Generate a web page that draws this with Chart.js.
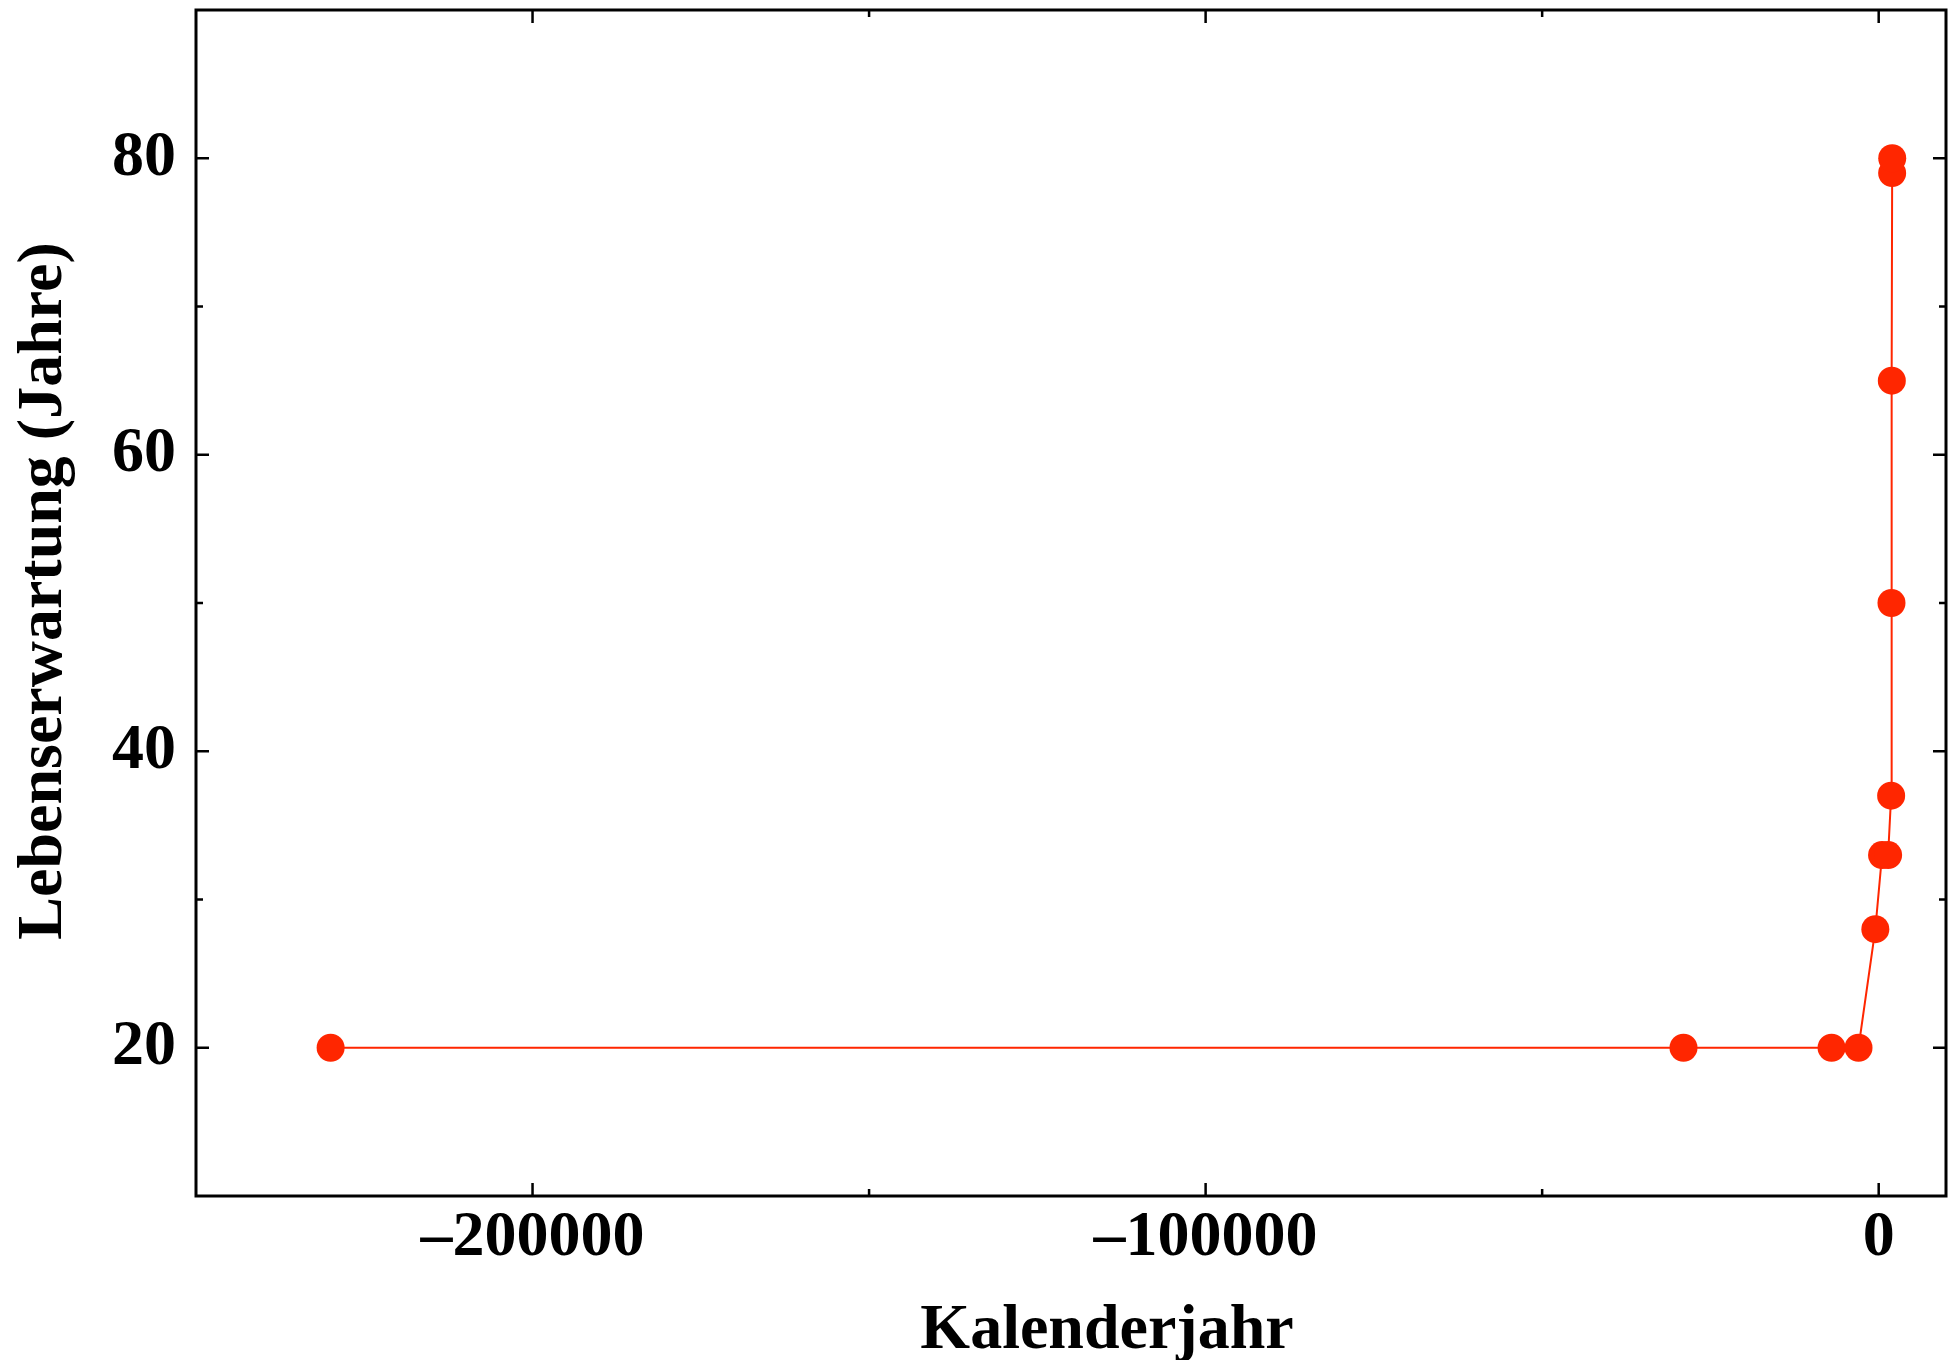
<!DOCTYPE html>
<html>
<head>
<meta charset="utf-8">
<script src="https://cdn.jsdelivr.net/npm/chart.js@4/dist/chart.umd.min.js"></script>
<style>
  html, body { margin: 0; padding: 0; background: #ffffff; }
  #wrap { width: 1959px; height: 1360px; position: relative; }
</style>
</head>
<body>
<div id="wrap"><canvas id="c" width="1959" height="1360"></canvas></div>
<script>
// ---- data ----
const years = [-230000, -29000, -7000, -3000, -500, 500, 1400, 1850, 1900, 1950, 2000, 2010];
const lifeExpectancy = [20, 20, 20, 20, 28, 33, 33, 37, 50, 65, 79, 80];
const xMajorTicks = [-200000, -100000, 0];
const xMinorTicks = [-150000, -50000];
const yMajorTicks = [20, 40, 60, 80];
const yMinorTicks = [30, 50, 70];
const xTitle = 'Kalenderjahr';
const yTitle = 'Lebenserwartung (Jahre)';

const FONT = '"Liberation Serif", "Times New Roman", serif';
const RED = '#ff2600';

const framePlugin = {
  id: 'frame',
  afterDraw(chart) {
    const ctx = chart.ctx;
    const a = chart.chartArea;
    const xs = chart.scales.x, ys = chart.scales.y;
    ctx.save();
    ctx.strokeStyle = '#000';
    ctx.lineWidth = 2.5;
    ctx.beginPath();
    const tick = (vals, len) => {
      vals.forEach(v => {
        const px = xs.getPixelForValue(v);
        ctx.moveTo(px, a.bottom); ctx.lineTo(px, a.bottom - len);
        ctx.moveTo(px, a.top); ctx.lineTo(px, a.top + len);
      });
    };
    const ytick = (vals, len) => {
      vals.forEach(v => {
        const py = ys.getPixelForValue(v);
        ctx.moveTo(a.left, py); ctx.lineTo(a.left + len, py);
        ctx.moveTo(a.right, py); ctx.lineTo(a.right - len, py);
      });
    };
    tick(xMajorTicks, 13); tick(xMinorTicks, 7);
    ytick(yMajorTicks, 13); ytick(yMinorTicks, 7);
    ctx.stroke();
    ctx.lineWidth = 3;
    ctx.strokeRect(a.left, a.top, a.right - a.left, a.bottom - a.top);
    // axis titles
    ctx.fillStyle = '#000';
    ctx.font = 'bold 64px ' + FONT;
    ctx.textAlign = 'center';
    ctx.textBaseline = 'alphabetic';
    ctx.fillText(xTitle, (a.left + a.right) / 2 + 36, 1348);
    ctx.translate(61, (a.top + a.bottom) / 2 - 12);
    ctx.rotate(-Math.PI / 2);
    ctx.fillText(yTitle, 0, 0);
    ctx.restore();
  }
};

const fmt = v => (v < 0 ? '\u2013' + Math.abs(v) : String(v));

new Chart(document.getElementById('c'), {
  type: 'line',
  data: {
    datasets: [{
      data: years.map((x, i) => ({ x: x, y: lifeExpectancy[i] })),
      borderColor: RED,
      backgroundColor: RED,
      borderWidth: 2,
      pointRadius: 14,
      pointBorderWidth: 0,
      pointBackgroundColor: RED,
      tension: 0
    }]
  },
  options: {
    responsive: false,
    animation: false,
    devicePixelRatio: 1,
    layout: { autoPadding: false, padding: { top: 10, right: 13, left: 0, bottom: 0 } },
    plugins: { legend: { display: false }, tooltip: { enabled: false } },
    scales: {
      x: {
        type: 'linear',
        position: 'bottom',
        min: -250000,
        max: 10000,
        grid: { display: false, drawTicks: false },
        border: { display: false },
        afterBuildTicks: s => { s.ticks = xMajorTicks.map(v => ({ value: v })); },
        afterFit: s => { s.height = 164; s.paddingLeft = 0; s.paddingRight = 0; },
        ticks: {
          font: { family: FONT, size: 64, weight: 'bold' },
          color: '#000',
          padding: 4,
          maxRotation: 0,
          autoSkip: false,
          callback: v => fmt(v)
        }
      },
      y: {
        type: 'linear',
        position: 'left',
        min: 10,
        max: 90,
        grid: { display: false, drawTicks: false },
        border: { display: false },
        afterBuildTicks: s => { s.ticks = yMajorTicks.map(v => ({ value: v })); },
        afterFit: s => { s.width = 196; s.paddingTop = 0; s.paddingBottom = 0; },
        ticks: {
          font: { family: FONT, size: 64, weight: 'bold' },
          color: '#000',
          padding: 20,
          autoSkip: false,
          callback: v => String(v)
        }
      }
    }
  },
  plugins: [framePlugin]
});
</script>
</body>
</html>
